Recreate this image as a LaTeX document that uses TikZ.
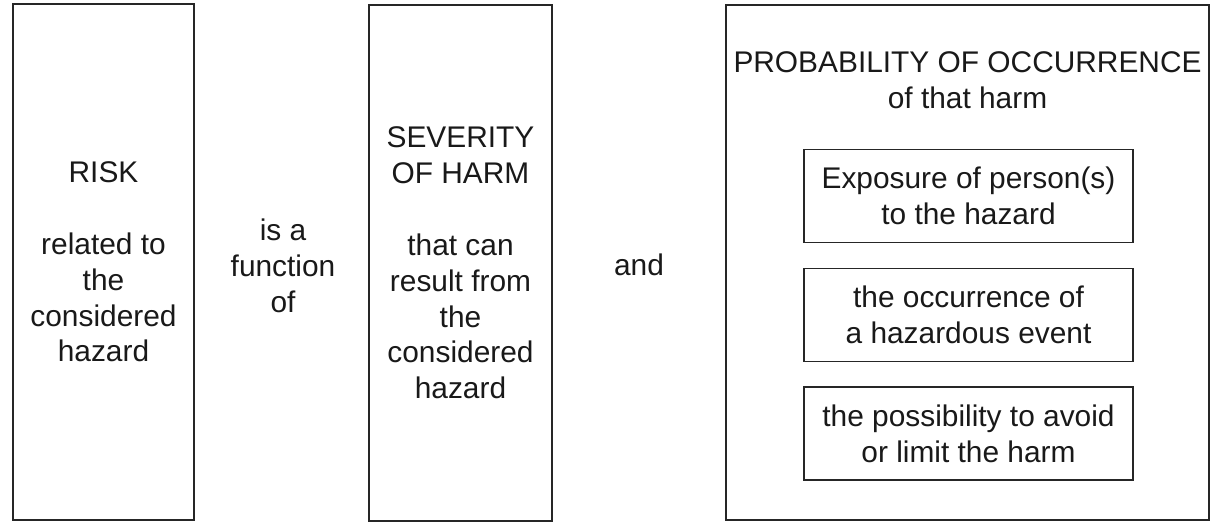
\documentclass[tikz,border=0pt]{standalone}
\usepackage{fontspec}
\setmainfont{Liberation Sans}

\begin{document}
\begin{tikzpicture}[x=0.02cm,y=-0.02cm,
  font=\fontsize{17}{20.4}\selectfont,text=black!90,
  tall/.style={draw=black!85,line width=1pt,minimum width=3.62cm,minimum height=10.31cm,align=center,inner sep=0pt},
  factor/.style={draw=black!85,line width=0.9pt,minimum width=6.58cm,minimum height=1.86cm,align=center,inner sep=0pt},
  plain/.style={align=center,inner sep=0pt}]
\useasboundingbox (0,0) rectangle (1216,522);
% left column
\node[tall] (risk) at (103.5,262) {RISK\\[20.4pt] related to\\ the\\ considered\\ hazard};
\node[plain] (function) at (283,266) {is a\\ function\\ of};
\node[tall,minimum width=3.66cm] (severity) at (460.5,263) {SEVERITY\\ OF HARM\\[20.4pt] that can\\ result from\\ the\\ considered\\ hazard};
\node[plain] (and) at (639,265) {and};
% right box with its three factors
\node[tall,minimum width=9.66cm] (probability) at (967.5,262.5) {};
\node[plain] (probtitle) at (967.5,80) {PROBABILITY OF OCCURRENCE\\ of that harm};
\node[factor] (exposure) at (968.5,196) {Exposure of person(s)\\ to the hazard};
\node[factor] (event) at (968.5,315) {the occurrence of\\ a hazardous event};
\node[factor] (avoid) at (968.5,433.5) {the possibility to avoid\\ or limit the harm};
\end{tikzpicture}
\end{document}
